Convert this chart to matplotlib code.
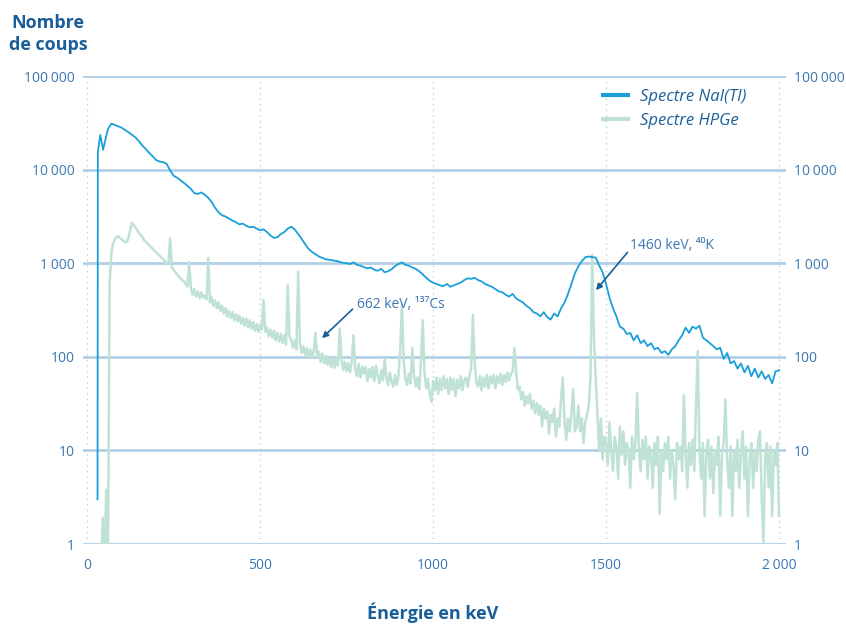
import numpy as np
import matplotlib
matplotlib.use("Agg")
import matplotlib.pyplot as plt

plt.rcParams['font.family'] = ['Open Sans', 'DejaVu Sans']

# NaI(Tl) spectrum (keV, counts)
nai_energy = [30, 31, 38, 46] + list(range(60, 2001, 10))
nai_counts = [
    3, 15500, 23500, 16300,
    27000, 31000, 30000, 29000, 28000, 26500, 25000, 23500, 22000, 20000,
    18000, 16500, 15000, 13800, 12600, 12200, 12000, 11500, 9800, 8600,
    8200, 7700, 7200, 6700, 6200, 5600, 5500, 5700, 5400, 5000,
    4500, 3900, 3500, 3250, 3150, 3000, 2850, 2750, 2600, 2650,
    2500, 2420, 2450, 2350, 2250, 2300, 2150, 1980, 1860, 1900,
    2050, 2150, 2350, 2450, 2300, 2050, 1820, 1600, 1420, 1320,
    1250, 1180, 1140, 1100, 1090, 1070, 1060, 1030, 1010, 1000,
    980, 1020, 960, 940, 910, 880, 900, 850, 830, 870,
    800, 820, 860, 930, 980, 1020, 960, 940, 900, 870,
    820, 760, 700, 650, 620, 600, 580, 570, 600, 560,
    580, 600, 620, 660, 690, 680, 700, 660, 640, 600,
    580, 560, 530, 500, 490, 460, 440, 470, 420, 400,
    380, 350, 330, 300, 290, 270, 300, 265, 250, 290,
    270, 330, 380, 470, 600, 780, 930, 1050, 1160, 1180,
    1160, 1150, 950, 800, 600, 430, 330, 270, 210, 200,
    175, 180, 150, 170, 140, 150, 130, 140, 120, 125,
    110, 115, 105, 120, 130, 150, 170, 205, 180, 210,
    200, 215, 160, 150, 140, 130, 120, 125, 95, 110,
    85, 90, 75, 85, 68, 80, 62, 75, 60, 70,
    58, 64, 52, 70, 72,
]

# HPGe spectrum, 5 keV bins from 40 keV
hpge_energy = np.arange(40, 2001, 5)
hpge_counts = [
    0.5, 1.9, 0.5, 3.8, 0.5, 620, 1290, 1630, 1800, 1900,
    1950, 1850, 1800, 1720, 1680, 1700, 1900, 2300, 2700, 2550,
    2400, 2250, 2100, 2000, 1900, 1750, 1700, 1600, 1550, 1480,
    1420, 1350, 1300, 1250, 1200, 1150, 1100, 1050, 980, 1000,
    1850, 900, 850, 800, 760, 720, 690, 660, 640, 600,
    560, 1030, 540, 460, 530, 440, 500, 420, 490, 430,
    450, 410, 1140, 380, 430, 350, 400, 330, 380, 310,
    350, 290, 330, 270, 310, 260, 300, 245, 285, 240,
    275, 225, 260, 215, 255, 205, 245, 200, 235, 190,
    225, 185, 220, 195, 405, 185, 205, 165, 195, 160,
    190, 150, 180, 145, 175, 140, 170, 135, 590, 165,
    150, 125, 150, 120, 810, 140, 110, 130, 105, 125,
    100, 120, 98, 115, 180, 100, 112, 88, 108, 85,
    102, 82, 98, 78, 95, 76, 96, 80, 200, 98,
    72, 88, 70, 86, 68, 90, 170, 74, 62, 84,
    60, 78, 66, 78, 55, 74, 60, 78, 55, 80,
    62, 52, 72, 56, 95, 60, 50, 68, 54, 48,
    64, 50, 62, 120, 355, 90, 58, 50, 66, 52,
    124, 62, 48, 60, 45, 90, 246, 70, 46, 58,
    40, 33, 55, 44, 60, 40, 58, 44, 62, 46,
    58, 40, 60, 44, 58, 38, 57, 46, 62, 44,
    56, 60, 48, 62, 75, 280, 90, 54, 48, 62,
    44, 60, 48, 64, 46, 62, 52, 64, 46, 62,
    52, 66, 50, 64, 54, 68, 56, 66, 70, 124,
    70, 45, 48, 35, 42, 30, 38, 32, 40, 28,
    34, 25, 32, 24, 30, 18, 28, 22, 26, 15,
    24, 20, 28, 14, 22, 18, 36, 60, 20, 13,
    22, 16, 25, 45, 16, 18, 30, 16, 22, 12,
    20, 24, 30, 60, 1230, 160, 60, 25, 10, 22,
    8, 14, 12, 7, 20, 10, 6, 14, 11, 5,
    18, 9, 16, 7, 12, 10, 4, 14, 8, 12,
    41, 10, 6, 13, 8, 14, 5, 11, 9, 4,
    12, 7, 14, 2.1, 10, 6, 12, 8, 14, 5,
    10, 7, 3, 12, 8, 11, 6, 39, 9, 4,
    12, 7, 13, 6, 30, 115, 10, 5, 12, 2,
    9, 13, 5, 11, 3.5, 10, 7, 14, 2, 9,
    12, 35, 8, 4, 11, 2, 10, 6, 13, 4,
    9, 16, 5, 11, 2, 8, 12, 4, 10, 6,
    13, 16, 3, 1, 9, 12, 4, 11, 2, 10,
    7, 12, 2,
]

y_ticks = [1, 10, 100, 1000, 10000, 100000]
y_labels = ['1', '10', '100', '1\u202f000', '10\u202f000', '100\u202f000']
x_ticks = [0, 500, 1000, 1500, 2000]
x_labels = ['0', '500', '1000', '1500', '2\u202f000']

nai_color = '#1a9fdb'
hpge_color = '#bfe2d5'
grid_color = '#b3cfe6'
tick_color = '#3b78b3'
title_color = '#1a5e99'

fig = plt.figure(figsize=(8.46, 6.24), dpi=100)
ax = fig.add_axes([0.0981, 0.1282, 0.8309, 0.7500])

ax.plot(hpge_energy, hpge_counts, color=hpge_color, lw=1.8, label='Spectre HPGe', zorder=2)
ax.plot(nai_energy, nai_counts, color=nai_color, lw=1.3, label='Spectre NaI(TI)', zorder=3)

ax.set_yscale('log')
ax.set_ylim(1, 100000)
ax.set_xlim(-12, 2020)

ax.set_yticks(y_ticks)
ax.set_yticklabels(y_labels)
ax.yaxis.set_minor_locator(matplotlib.ticker.NullLocator())
ax.set_xticks(x_ticks)
ax.set_xticklabels(x_labels)
ax.tick_params(axis='both', length=0, labelsize=10, labelcolor=tick_color)
ax.tick_params(axis='y', pad=6, labelright=True, right=False)
ax.tick_params(axis='x', pad=10)

for s in ax.spines.values():
    s.set_visible(False)

for y in y_ticks:
    ax.axhline(y, color=grid_color, lw=2, zorder=1)
for x in x_ticks:
    ax.axvline(x, color=grid_color, lw=1, ls=(0, (1, 3)), zorder=1)

ax.annotate('662 keV, \u00b9\u00b3\u2077Cs', xy=(679, 158), xytext=(780, 300),
            color=tick_color, fontsize=10, ha='left', va='bottom',
            arrowprops=dict(arrowstyle='-|>', color=title_color, lw=1.2,
                            mutation_scale=9, shrinkA=0, shrinkB=0,
                            relpos=(-0.05, 0.2)))
ax.annotate('1460 keV, \u2074\u2070K', xy=(1471, 515), xytext=(1570, 1300),
            color=tick_color, fontsize=10, ha='left', va='bottom',
            arrowprops=dict(arrowstyle='-|>', color=title_color, lw=1.2,
                            mutation_scale=9, shrinkA=0, shrinkB=0,
                            relpos=(-0.02, 0.1)))

handles, labels = ax.get_legend_handles_labels()
leg = ax.legend(handles[::-1], labels[::-1], loc='upper right',
                bbox_to_anchor=(0.965, 1.005), frameon=False,
                handlelength=1.5, handletextpad=0.7, labelspacing=0.5,
                prop={'style': 'italic', 'size': 12})
for line in leg.get_lines():
    line.set_linewidth(3)
for t in leg.get_texts():
    t.set_color(title_color)

fig.text(0.057, 0.945, 'Nombre\nde coups', ha='center', va='center',
         fontsize=13, fontweight='bold', color=title_color, linespacing=1.3)
fig.text(0.512, 0.018, '\u00c9nergie en keV', ha='center', va='center',
         fontsize=13, fontweight='bold', color=title_color)

fig.savefig('out.png', dpi=100)
